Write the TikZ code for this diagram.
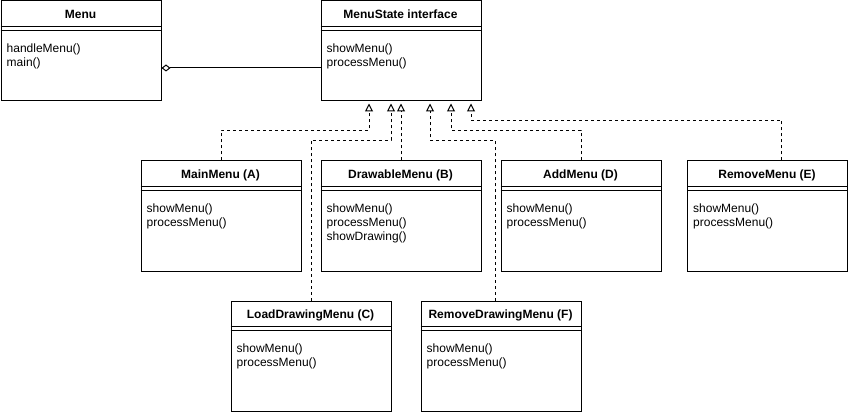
\documentclass[tikz,border=0pt]{standalone}
\usepackage{fontspec}
\setmainfont{Liberation Sans}
\usetikzlibrary{arrows.meta}
\tikzset{
  cls/.style={draw, line width=1pt, anchor=north west, minimum width=160pt, inner sep=0pt, fill=white},
  ttl/.style={font=\fontsize{12}{14}\selectfont\bfseries, anchor=base, inner sep=0pt},
  mth/.style={font=\fontsize{12}{14}\selectfont, anchor=north west, align=left, inner sep=0pt},
  sepline/.style={line width=1pt},
  real/.style={line width=1pt, dash pattern=on 3pt off 3pt, -{Triangle[open, length=8pt, width=8pt, line width=1pt]}},
  agg/.style={line width=1pt, -{Diamond[open, length=9pt, width=7pt, line width=1pt]}},
}
\newcommand\umlcls[6]{%
  \node[cls, minimum height=#4pt] (#1) at (#2,#3) {};
  \node[ttl] (#1-t) at (#2+80,#3+18) {#5};
  \draw[sepline] (#2,#3+26) -- (#2+160,#3+26);
  \draw[sepline] (#2,#3+30) -- (#2+160,#3+30);
  \node[mth] (#1-m) at (#2+6,#3+43.5) {#6};
}
\begin{document}
\begin{tikzpicture}[x=1pt, y=-1pt]
\useasboundingbox (0,0) rectangle (848,414);
\umlcls{menu}{0.5}{0.5}{100}{Menu}{handleMenu()\\main()}
\umlcls{ms}{320.5}{0.5}{100}{MenuState interface}{showMenu()\\processMenu()}
\umlcls{mainA}{140.5}{160.5}{110}{MainMenu (A)}{showMenu()\\processMenu()}
\umlcls{drawB}{320.5}{160.5}{110}{DrawableMenu (B)}{showMenu()\\processMenu()\\showDrawing()}
\umlcls{addD}{500.5}{160.5}{110}{AddMenu (D)}{showMenu()\\processMenu()}
\umlcls{remE}{687}{160.5}{110}{RemoveMenu (E)}{showMenu()\\processMenu()}
\umlcls{loadC}{230.5}{300.5}{110}{LoadDrawingMenu (C)}{showMenu()\\processMenu()}
\umlcls{remF}{420.5}{300.5}{110}{RemoveDrawingMenu (F)}{showMenu()\\processMenu()}

\draw[agg] ([yshift=-17pt]ms.west) -- ([yshift=-17pt]menu.east);

\draw[real] (mainA.north) -- ++(0,-30) -| ([xshift=-32pt,yshift=-2pt]ms.south);
\draw[real] (loadC.north) -- ++(0,-160) -| ([xshift=-10pt,yshift=-2pt]ms.south);
\draw[real] (drawB.north) -- ([yshift=-2pt]ms.south);
\draw[real] ([xshift=-6pt]remF.north) -- ++(0,-160) -| ([xshift=29pt,yshift=-2pt]ms.south);
\draw[real] (addD.north) -- ++(0,-30) -| ([xshift=50pt,yshift=-2pt]ms.south);
\draw[real] ([xshift=14pt]remE.north) -- ++(0,-40) -| ([xshift=70pt,yshift=-2pt]ms.south);
\end{tikzpicture}
\end{document}
